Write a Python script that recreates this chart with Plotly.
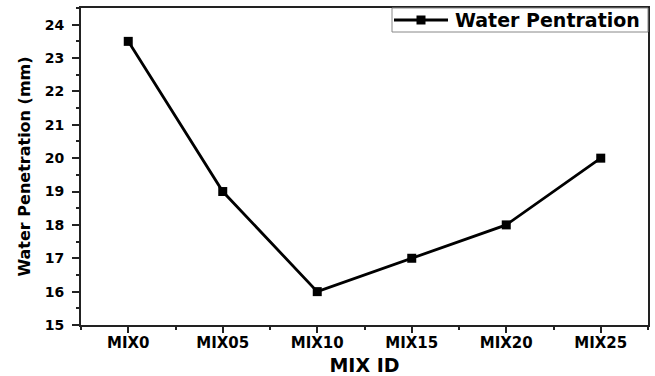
import plotly.graph_objects as go

categories = ["MIX0", "MIX05", "MIX10", "MIX15", "MIX20", "MIX25"]
penetration = [23.5, 19, 16, 17, 18, 20]
y_ticks = [15, 16, 17, 18, 19, 20, 21, 22, 23, 24]
series_name = "Water Pentration"

xpos = list(range(len(categories)))
FONT = "DejaVu Sans, Liberation Sans, Arial, sans-serif"

fig = go.Figure()
fig.add_trace(go.Scatter(
    x=xpos, y=penetration, mode="lines+markers", name=series_name,
    line=dict(color="black", width=2.8),
    marker=dict(symbol="square", size=9, color="black"),
    showlegend=False,
))

# Compact legend box (drawn in paper coordinates, like the original's Origin-style legend)
L, R, B, T = 81, 648, 325, 8  # plot area in px (from margins)
def px_x(x):
    return (x - L) / (R - L)
def px_y(y):
    return (B - y) / (B - T)

fig.add_shape(type="rect", xref="paper", yref="paper",
              x0=px_x(392), x1=1, y0=px_y(32), y1=1,
              line=dict(color="#888", width=1), fillcolor="white", layer="above")
fig.add_shape(type="line", xref="paper", yref="paper",
              x0=px_x(394), x1=px_x(448), y0=px_y(20), y1=px_y(20),
              line=dict(color="black", width=2.8), layer="above")
fig.add_shape(type="rect", xref="paper", yref="paper",
              x0=px_x(416.5), x1=px_x(425.5), y0=px_y(24.5), y1=px_y(15.5),
              line=dict(color="black", width=0), fillcolor="black", layer="above")
fig.add_annotation(xref="paper", yref="paper", x=px_x(453), y=px_y(20),
                   xanchor="left", yanchor="middle", showarrow=False,
                   text=series_name, font=dict(size=19, family=FONT, weight="bold", color="black"))

fig.update_layout(
    width=655, height=376,
    margin=dict(l=81, r=7, t=8, b=51),
    paper_bgcolor="white", plot_bgcolor="white",
    font=dict(family=FONT, color="black"),
    showlegend=False,
    xaxis=dict(
        range=[-0.5, 5.5], automargin=False,
        tickvals=xpos, ticktext=categories,
        ticks="outside", ticklen=6, tickwidth=1.8, tickcolor="#222",
        minor=dict(dtick=0.5, tick0=0.5, ticks="outside", ticklen=3, tickwidth=1.8, tickcolor="#222"),
        showline=True, linecolor="#222", linewidth=1.8, mirror=True,
        showgrid=False, zeroline=False,
        ticklabelstandoff=-3,
        tickfont=dict(size=15, family=FONT, weight="bold"),
        title=dict(text="MIX ID", font=dict(size=19, family=FONT, weight="bold")),
    ),
    yaxis=dict(
        range=[15, 24.5], automargin=False,
        tickvals=y_ticks,
        ticks="outside", ticklen=7, tickwidth=1.8, tickcolor="#222",
        minor=dict(dtick=0.5, tick0=15.5, ticks="outside", ticklen=3, tickwidth=1.8, tickcolor="#222"),
        showline=True, linecolor="#222", linewidth=1.8, mirror=True,
        showgrid=False, zeroline=False,
        ticklabelstandoff=5,
        tickfont=dict(size=14, family=FONT, weight="bold"),
        title=dict(text="Water Penetration (mm)", font=dict(size=16, family=FONT, weight="bold"), standoff=10),
    ),
)

fig.write_html("out.html")
